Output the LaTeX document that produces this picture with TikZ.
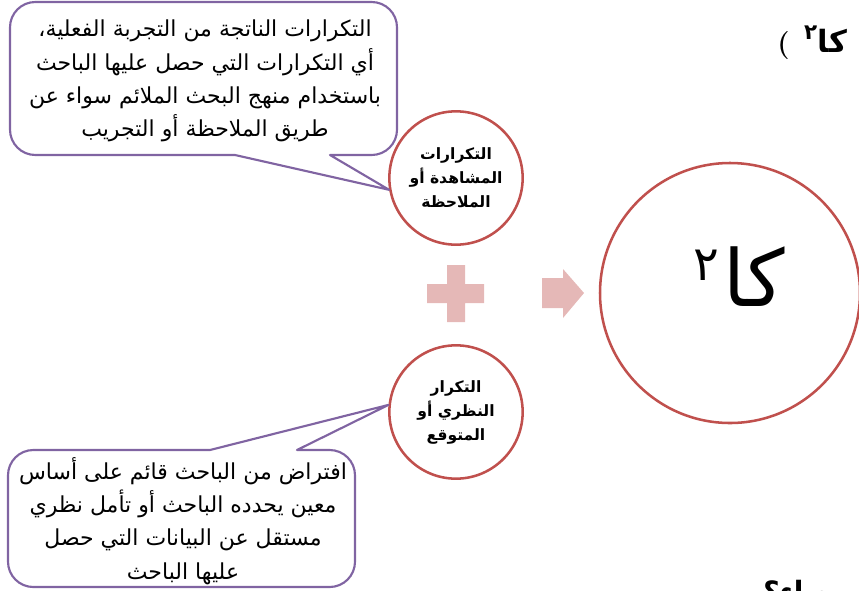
\documentclass[tikz,border=0pt]{standalone}
\usepackage{fontspec}
\newfontfamily\arabicfont[Script=Arabic]{DejaVu Sans}
\TeXXeTstate=1
\newcommand{\artxt}[1]{{\arabicfont\beginR #1\endR}}

\begin{document}
\begin{tikzpicture}[x=0.75pt,y=0.75pt,yscale=-1,xscale=1,
  freqcircle/.style={circle,draw={rgb, 255:red, 192; green, 80; blue, 77 },line width=1.9pt,minimum size=100pt,inner sep=0pt,align=center,font=\bfseries\fontsize{11.7}{18}\selectfont},
  callout/.style={draw={rgb, 255:red, 128; green, 100; blue, 162 },line width=1.6pt,line join=round},
  calltext/.style={align=center,inner sep=0.75pt,font=\fontsize{16.5}{25}\selectfont},
  pinkshape/.style={fill={rgb, 255:red, 229; green, 184; blue, 183 }},
  headtext/.style={inner sep=0pt,font=\bfseries\fontsize{21}{26}\selectfont}]
\useasboundingbox (0,0) rectangle (859,590);
\clip (0,0) rectangle (859,590);

%Shape: Circle (observed)
\node[freqcircle] (obs) at (456,178) {\artxt{التكرارات}\\\artxt{المشاهدة أو}\\\artxt{الملاحظة}};
%Shape: Circle (expected)
\node[freqcircle] (exp) at (456,412) {\artxt{التكرار}\\\artxt{النظري أو}\\\artxt{المتوقع}};
%Shape: Circle (chi square)
\node[freqcircle,minimum size=195pt] (chi) at (730,293) {};

%Shape: Callout top
\draw[callout] (120,155) -- (235,155) -- (obs.190) -- (330,155) [rounded corners=19pt] -- (397,155) -- (397,2) -- (10,2) -- (10,155) [sharp corners] -- cycle;
%Shape: Callout bottom
\draw[callout] (120,450) -- (210,450) -- (exp.174) -- (297,450) [rounded corners=19pt] -- (355,450) -- (355,587) -- (8,587) -- (8,450) [sharp corners] -- cycle;

%Shape: Plus
\fill[pinkshape] (427,284) -- (447,284) -- (447,265) -- (465,265) -- (465,284) -- (484,284) -- (484,303) -- (465,303) -- (465,322) -- (447,322) -- (447,303) -- (427,303) -- cycle;
%Shape: Right Arrow
\fill[pinkshape] (542,278) -- (563,278) -- (563,269) -- (584,293) -- (563,318) -- (563,308) -- (542,308) -- cycle;

% Text Node
\node[calltext] (obsnote) at (205,81) {\artxt{التكرارات الناتجة من التجربة الفعلية،}\\\artxt{أي التكرارات التي حصل عليها الباحث}\\\artxt{باستخدام منهج البحث الملائم سواء عن}\\\artxt{طريق الملاحظة أو التجريب}};
% Text Node
\node[calltext] (expnote) at (183,521) {\artxt{افتراض من الباحث قائم على أساس}\\\artxt{معين يحدده الباحث أو تأمل نظري}\\\artxt{مستقل عن البيانات التي حصل}\\\artxt{عليها الباحث}};
% Text Node
\node[inner sep=0pt,font=\fontsize{59}{64}\selectfont,anchor=base] (chilabel) at (739,306) {\artxt{كا\hspace{3pt}\raisebox{19pt}{\fontsize{36}{40}\selectfont ٢}}};
% Text Node
\node[headtext,anchor=base west] (topref) at (777,52) {(\hspace{11pt}\artxt{\fontsize{23}{26}\selectfont كا\textsuperscript{٢}}};
% Text Node
\node[headtext,anchor=base west] (bottomref) at (763,601) {\artxt{صاء؟}};
\end{tikzpicture}
\end{document}
